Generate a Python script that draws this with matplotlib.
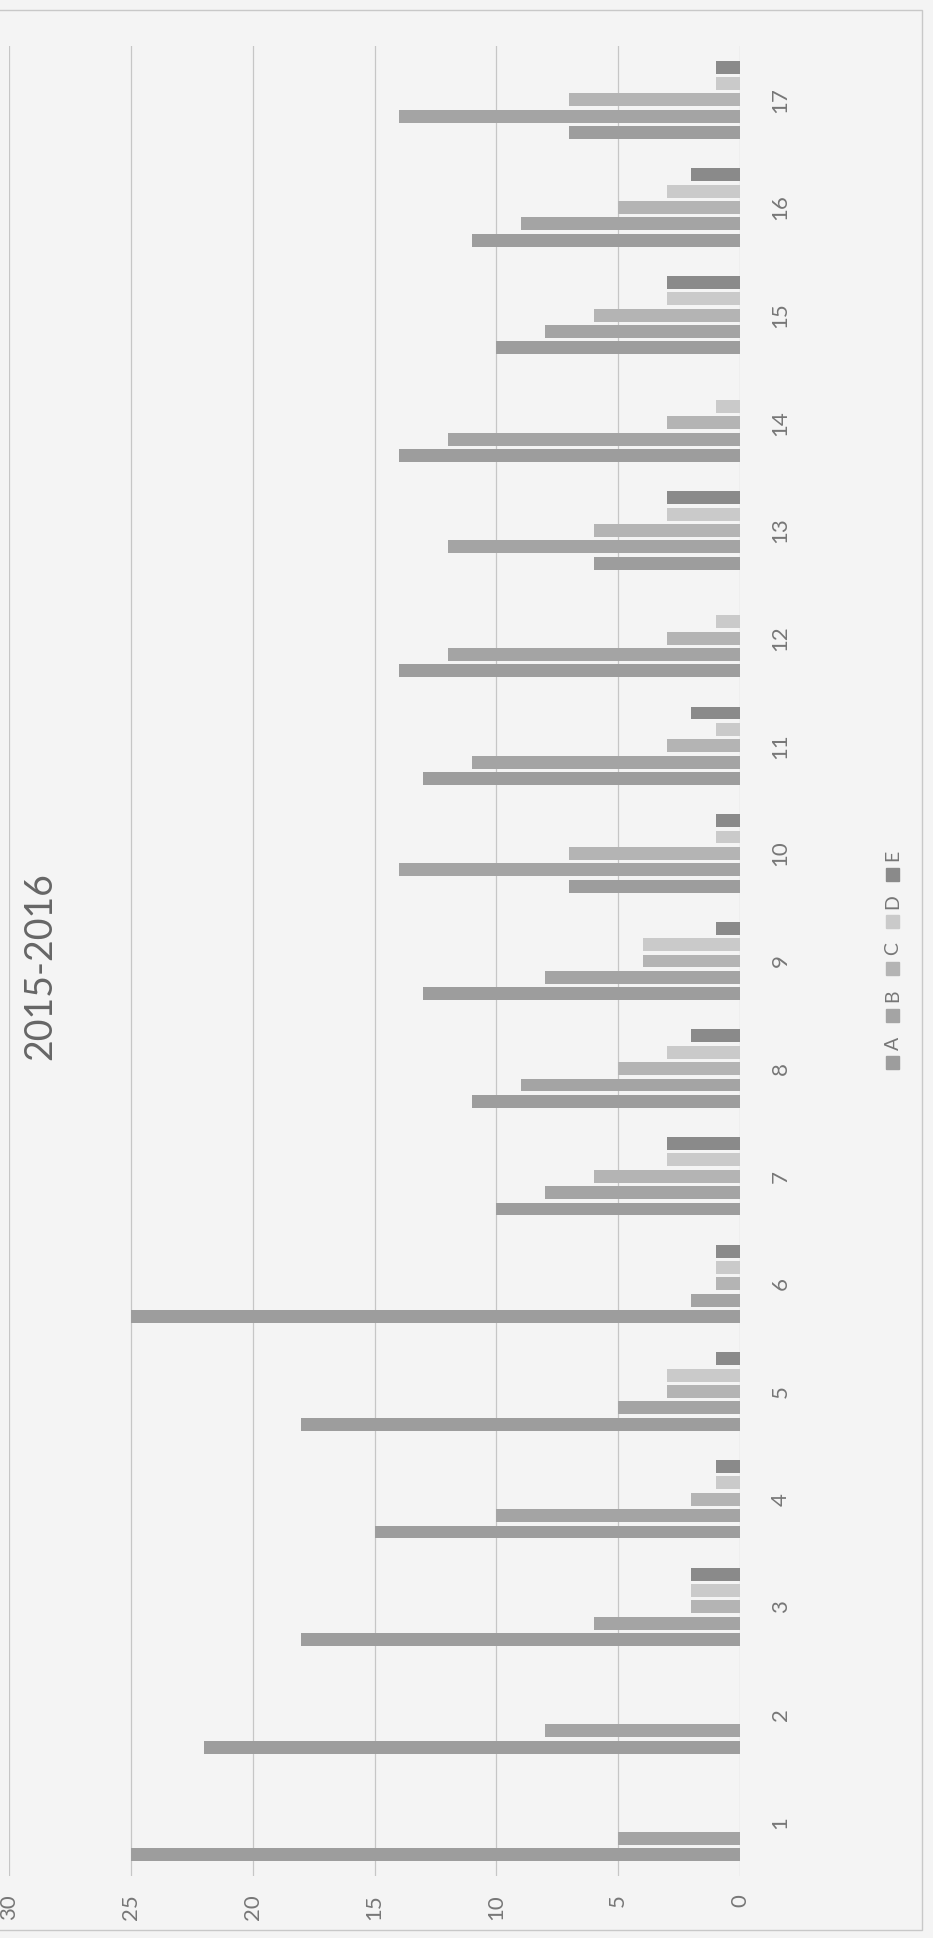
import matplotlib
matplotlib.use("Agg")
import matplotlib.pyplot as plt
from matplotlib.patches import Rectangle
import numpy as np

plt.rcParams['font.family'] = ['Lato', 'DejaVu Sans']

# datos
categorias = list(range(1, 18))
serie_A = [25, 22, 18, 15, 18, 25, 10, 11, 13, 7, 13, 14, 6, 14, 10, 11, 7]
serie_B = [5, 8, 6, 10, 5, 2, 8, 9, 8, 14, 11, 12, 12, 12, 8, 9, 14]
serie_C = [0, 0, 2, 2, 3, 1, 6, 5, 4, 7, 3, 3, 6, 3, 6, 5, 7]
serie_D = [0, 0, 2, 1, 3, 1, 3, 3, 4, 1, 1, 1, 3, 1, 3, 3, 1]
serie_E = [0, 0, 2, 1, 1, 1, 3, 2, 1, 1, 2, 0, 3, 0, 3, 2, 1]
nombres = ['A', 'B', 'C', 'D', 'E']
colores = ['#9d9d9d', '#a4a4a4', '#b4b4b4', '#cacaca', '#8a8a8a']
titulo = '2015-2016'

W, H = 933, 1938
fondo = '#f4f4f4'
fig = plt.figure(figsize=(W / 100, H / 100), dpi=100, facecolor=fondo)

# eje en píxeles: valor 0 a la derecha, categorías de abajo hacia arriba
x0, x1 = 9, 740
y_top, y_bot = 46, 1876
ax = fig.add_axes([x0 / W, 1 - y_bot / H, (x1 - x0) / W, (y_bot - y_top) / H])
ax.set_facecolor(fondo)

y = np.array(categorias)
paso = 0.152
alto = 0.12
series = [serie_A, serie_B, serie_C, serie_D, serie_E]
for i, (vals, col) in enumerate(zip(series, colores)):
    ax.barh(y + (i - 2) * paso, vals, height=alto, color=col, zorder=3)

ax.set_xlim(30, 0)
ax.set_ylim(0.5, 17.5)
ax.set_xticks(range(0, 31, 5))
ax.set_yticks(categorias)
ax.xaxis.grid(True, color='#c6c6c6', lw=0.9, zorder=0)
ax.set_axisbelow(True)
for s in ax.spines.values():
    s.set_visible(False)
ax.yaxis.tick_right()
ax.tick_params(axis='x', length=0, pad=13, labelsize=16, labelcolor='#777777', labelrotation=90)
ax.tick_params(axis='y', length=0, pad=22, labelsize=16, labelcolor='#777777', labelrotation=90)
for t in ax.get_yticklabels():
    t.set_va('center')

# título
fig.text(40 / W, 1 - 966 / H, titulo, rotation=90, fontsize=27, color='#666666',
         ha='center', va='center')

# leyenda manual (girada)
xc = 893
for i, (nom, col) in enumerate(zip(nombres, colores)):
    ym = 1062 - 47 * i
    fig.add_artist(Rectangle(((xc - 7) / W, 1 - (ym + 7) / H), 13 / W, 13 / H,
                             transform=fig.transFigure, color=col))
    fig.text(xc / W, 1 - (ym - 19) / H, nom, rotation=90, fontsize=14,
             color='#777777', ha='center', va='center')

# borde del gráfico
fig.add_artist(Rectangle((-0.01, 1 - 1930 / H), 922 / W + 0.01, (1930 - 10) / H,
                         transform=fig.transFigure, fill=False, ec='#c8c8c8', lw=1))

fig.savefig('out.png', dpi=100, facecolor=fondo)
